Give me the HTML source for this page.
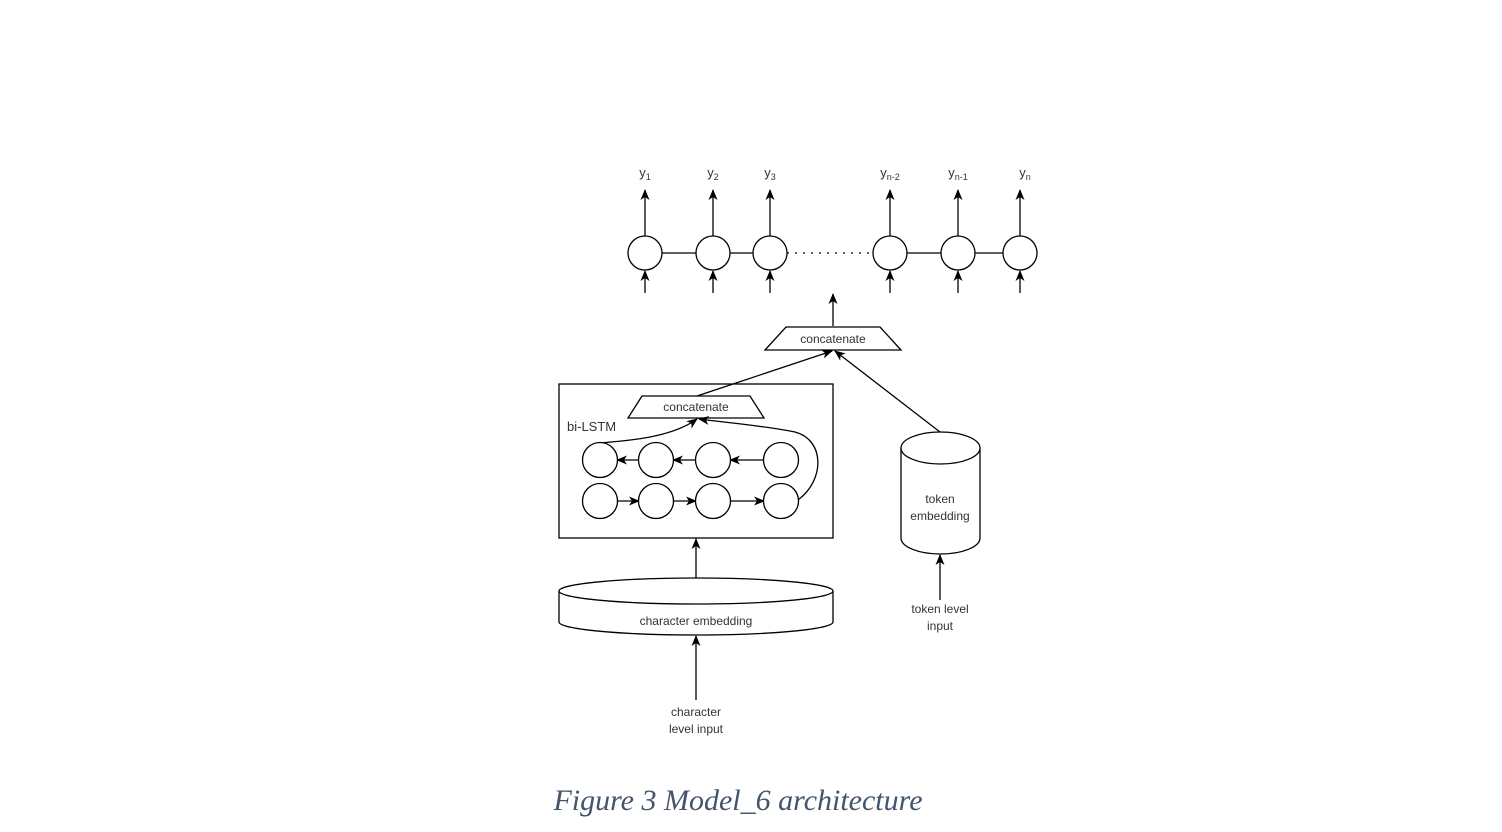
<!DOCTYPE html>
<html><head><meta charset="utf-8"><style>
html,body{margin:0;padding:0;background:#fff;}
svg{display:block;}
.t{font-family:"Liberation Sans",sans-serif;font-size:13px;fill:#333;}
</style></head><body>
<svg width="1502" height="832" viewBox="0 0 1502 832" xmlns="http://www.w3.org/2000/svg">
<defs>
<marker id="a" markerWidth="12" markerHeight="12" refX="10" refY="6" orient="auto" markerUnits="userSpaceOnUse">
<path d="M0,1.5 L11,6 L0,10.5 L3,6 Z" fill="#000"/>
</marker>
</defs>
<g stroke="#000" stroke-width="1.3" fill="none">
<line x1="662" y1="253" x2="696" y2="253"/>
<line x1="730" y1="253" x2="753" y2="253"/>
<line x1="787" y1="253" x2="873" y2="253" stroke-dasharray="2,6"/>
<line x1="907" y1="253" x2="941" y2="253"/>
<line x1="975" y1="253" x2="1003" y2="253"/>
<g fill="#fff">
<circle cx="645" cy="253" r="17"/><circle cx="713" cy="253" r="17"/><circle cx="770" cy="253" r="17"/>
<circle cx="890" cy="253" r="17"/><circle cx="958" cy="253" r="17"/><circle cx="1020" cy="253" r="17"/>
</g>
<g marker-end="url(#a)">
<line x1="645" y1="236" x2="645" y2="190"/><line x1="713" y1="236" x2="713" y2="190"/><line x1="770" y1="236" x2="770" y2="190"/>
<line x1="890" y1="236" x2="890" y2="190"/><line x1="958" y1="236" x2="958" y2="190"/><line x1="1020" y1="236" x2="1020" y2="190"/>
<line x1="645" y1="293" x2="645" y2="271"/><line x1="713" y1="293" x2="713" y2="271"/><line x1="770" y1="293" x2="770" y2="271"/>
<line x1="890" y1="293" x2="890" y2="271"/><line x1="958" y1="293" x2="958" y2="271"/><line x1="1020" y1="293" x2="1020" y2="271"/>
<line x1="833" y1="326" x2="833" y2="294"/>
</g>
<path d="M786,327 L880,327 L901,350 L765,350 Z"/>
<rect x="559" y="384" width="274" height="154"/>
<path d="M642,396 L750,396 L764,418 L628,418 Z" fill="#fff"/>
<g marker-end="url(#a)">
<line x1="697" y1="396" x2="832" y2="351"/>
<line x1="940" y1="432" x2="835" y2="351"/>
<path d="M600,443 C640,440 675,435 697,419"/>
<path d="M798,500 C825,480 825,440 795,432 C760,425 720,422 699,419"/>
<line x1="639" y1="460" x2="617" y2="460"/>
<line x1="696" y1="460" x2="673" y2="460"/>
<line x1="764" y1="460" x2="730" y2="460"/>
<line x1="617" y1="501" x2="639" y2="501"/>
<line x1="673" y1="501" x2="696" y2="501"/>
<line x1="730" y1="501" x2="764" y2="501"/>
<line x1="696" y1="578" x2="696" y2="539"/>
<line x1="696" y1="700" x2="696" y2="636"/>
<line x1="940" y1="600" x2="940" y2="555"/>
</g>
<g fill="#fff">
<circle cx="600" cy="460" r="17.5"/><circle cx="656" cy="460" r="17.5"/><circle cx="713" cy="460" r="17.5"/><circle cx="781" cy="460" r="17.5"/>
<circle cx="600" cy="501" r="17.5"/><circle cx="656" cy="501" r="17.5"/><circle cx="713" cy="501" r="17.5"/><circle cx="781" cy="501" r="17.5"/>
</g>
<path d="M559,591 L559,622 A137,13 0 0 0 833,622 L833,591"/>
<ellipse cx="696" cy="591" rx="137" ry="13" fill="#fff"/>
<path d="M901,448 L901,538 A39.5,16 0 0 0 980,538 L980,448"/>
<ellipse cx="940.5" cy="448" rx="39.5" ry="16" fill="#fff"/>
</g>
<g class="t" text-anchor="middle">
<text x="645" y="177">y<tspan font-size="9" dy="3">1</tspan></text>
<text x="713" y="177">y<tspan font-size="9" dy="3">2</tspan></text>
<text x="770" y="177">y<tspan font-size="9" dy="3">3</tspan></text>
<text x="890" y="177">y<tspan font-size="9" dy="3">n-2</tspan></text>
<text x="958" y="177">y<tspan font-size="9" dy="3">n-1</tspan></text>
<text x="1025" y="177">y<tspan font-size="9" dy="3">n</tspan></text>
<text x="833" y="343" font-size="12">concatenate</text>
<text x="696" y="411" font-size="12">concatenate</text>
<text x="696" y="625" font-size="12">character embedding</text>
<text x="940" y="503" font-size="12">token</text>
<text x="940" y="520" font-size="12">embedding</text>
<text x="940" y="613" font-size="12">token level</text>
<text x="940" y="630" font-size="12">input</text>
<text x="696" y="716" font-size="12">character</text>
<text x="696" y="733" font-size="12">level input</text>
</g>
<text class="t" x="567" y="431" font-size="12">bi-LSTM</text>
<text x="738" y="810" text-anchor="middle" font-family="'Liberation Serif',serif" font-style="italic" font-size="30" fill="#44546a">Figure 3 Model_6 architecture</text>
</svg>
</body></html>
